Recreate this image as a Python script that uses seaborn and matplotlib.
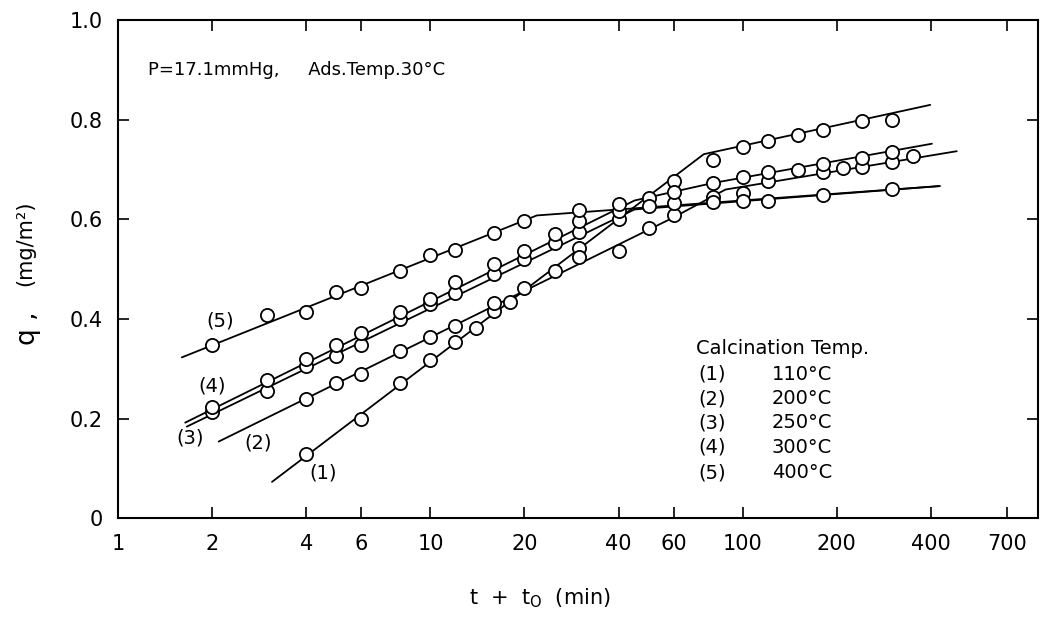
import numpy as np
import pandas as pd
import matplotlib
matplotlib.use("Agg")
import matplotlib.pyplot as plt
import seaborn as sns
from matplotlib.ticker import NullLocator

# measured points: t + t0 (min) and q (mg/m2) for each calcination temperature
t_1 = [4, 6, 8, 10, 12, 14, 16, 18, 25, 30, 40, 50, 60, 80, 100, 120, 150, 180, 240, 300]
q_1 = [0.129, 0.199, 0.271, 0.317, 0.354, 0.382, 0.416, 0.434, 0.497, 0.543, 0.600, 0.644,
       0.677, 0.720, 0.745, 0.758, 0.770, 0.780, 0.798, 0.800]

t_2 = [4, 5, 6, 8, 10, 12, 16, 20, 30, 40, 50, 60, 80, 100, 120, 180, 210, 240, 300, 350]
q_2 = [0.239, 0.271, 0.289, 0.335, 0.364, 0.386, 0.432, 0.462, 0.525, 0.537, 0.582, 0.608,
       0.646, 0.653, 0.677, 0.695, 0.703, 0.705, 0.715, 0.727]

t_3 = [2, 3, 4, 5, 6, 8, 10, 12, 16, 20, 25, 30, 40, 60, 80, 100, 120, 180, 300]
q_3 = [0.214, 0.255, 0.305, 0.325, 0.347, 0.400, 0.430, 0.452, 0.491, 0.521, 0.552, 0.574,
       0.616, 0.632, 0.634, 0.638, 0.638, 0.650, 0.661]

t_4 = [2, 3, 4, 5, 6, 8, 10, 12, 16, 20, 25, 30, 40, 60, 80, 100, 120, 150, 180, 240, 300]
q_4 = [0.224, 0.277, 0.319, 0.347, 0.372, 0.414, 0.440, 0.475, 0.511, 0.537, 0.570, 0.596,
       0.630, 0.655, 0.673, 0.685, 0.695, 0.699, 0.711, 0.723, 0.735]

t_5 = [2, 3, 4, 5, 6, 8, 10, 12, 16, 20, 30, 50]
q_5 = [0.347, 0.408, 0.414, 0.455, 0.463, 0.497, 0.529, 0.539, 0.572, 0.596, 0.618, 0.626]

# hand-drawn fit lines (break points)
fit_t_1 = [3.11, 75, 398]
fit_q_1 = [0.073, 0.731, 0.830]
fit_t_2 = [2.10, 60, 88, 484]
fit_q_2 = [0.154, 0.604, 0.660, 0.737]
fit_t_3 = [1.66, 45, 427]
fit_q_3 = [0.184, 0.620, 0.667]
fit_t_4 = [1.64, 45, 80, 403]
fit_q_4 = [0.192, 0.638, 0.673, 0.752]
fit_t_5 = [1.60, 21.9, 427]
fit_q_5 = [0.323, 0.608, 0.667]

series_ids = ["(1)", "(2)", "(3)", "(4)", "(5)"]
calc_temps = ["110°C", "200°C", "250°C", "300°C", "400°C"]

x_ticks = [1, 2, 4, 6, 10, 20, 40, 60, 100, 200, 400, 700]
x_tick_labels = ["1", "2", "4", "6", "10", "20", "40", "60", "100", "200", "400", "700"]
y_ticks = [0, 0.2, 0.4, 0.6, 0.8, 1.0]
y_tick_labels = ["0", "0.2", "0.4", "0.6", "0.8", "1.0"]


def main():
    pts = pd.concat([
        pd.DataFrame({"t": t, "q": q, "run": s})
        for t, q, s in zip([t_1, t_2, t_3, t_4, t_5], [q_1, q_2, q_3, q_4, q_5], series_ids)
    ])
    fits = pd.concat([
        pd.DataFrame({"t": t, "q": q, "run": s})
        for t, q, s in zip([fit_t_1, fit_t_2, fit_t_3, fit_t_4, fit_t_5],
                           [fit_q_1, fit_q_2, fit_q_3, fit_q_4, fit_q_5], series_ids)
    ])

    sns.set_style("ticks", {"xtick.direction": "in", "ytick.direction": "in"})
    plt.rcParams["font.family"] = ["DejaVu Sans"]
    plt.rcParams.update({"text.color": "black", "axes.labelcolor": "black",
                         "xtick.color": "black", "ytick.color": "black",
                         "axes.edgecolor": "black"})

    fig = plt.figure(figsize=(10.45, 6.32), dpi=100)
    ax = fig.add_axes([0.113, 0.180, 0.880, 0.788])

    black = {s: "black" for s in series_ids}
    sns.lineplot(data=fits, x="t", y="q", hue="run", palette=black, units="run",
                 estimator=None, sort=False, linewidth=1.3, legend=False, ax=ax)
    sns.scatterplot(data=pts, x="t", y="q", hue="run", palette=black, marker="o",
                    s=90, linewidth=1.3, legend=False, ax=ax, zorder=3)
    for coll in ax.collections:
        coll.set_facecolor("white")
        coll.set_edgecolor("black")

    ax.set_xscale("log")
    ax.set_xlim(1, 879)
    ax.set_ylim(0, 1.0)
    ax.set_xticks(x_ticks)
    ax.set_xticklabels(x_tick_labels)
    ax.xaxis.set_minor_locator(NullLocator())
    ax.set_yticks(y_ticks)
    ax.set_yticklabels(y_tick_labels)
    ax.tick_params(axis="both", which="major", direction="in", length=8, width=1.2,
                   top=True, right=True, labelsize=15, pad=11)
    for sp in ax.spines.values():
        sp.set_linewidth(1.5)
    ax.set_xlabel("")
    ax.set_ylabel("")

    # curve labels
    ax.text(2.12, 0.396, "(5)", fontsize=14, ha="center", va="center")
    ax.text(2.0, 0.265, "(4)", fontsize=14, ha="center", va="center")
    ax.text(1.70, 0.162, "(3)", fontsize=14, ha="center", va="center")
    ax.text(2.8, 0.152, "(2)", fontsize=14, ha="center", va="center")
    ax.text(4.53, 0.091, "(1)", fontsize=14, ha="center", va="center")

    ax.text(0.033, 0.90, "P=17.1mmHg,     Ads.Temp.30°C", transform=ax.transAxes,
            fontsize=13, ha="left", va="center")

    # key block
    ax.text(71, 0.341, "Calcination Temp.", fontsize=14, ha="left", va="center")
    rows_y = [0.289, 0.240, 0.192, 0.143, 0.091]
    for yy, sid, temp in zip(rows_y, series_ids, calc_temps):
        ax.text(79.6, yy, sid, fontsize=14, ha="center", va="center")
        ax.text(124, yy, temp, fontsize=14, ha="left", va="center")

    fig.text(0.517, 0.054, "t  +  t$_\\mathregular{O}$  (min)", fontsize=15,
             ha="center", va="center")
    fig.text(0.027, 0.48, "q ,", fontsize=19, rotation=90, ha="center", va="center")
    fig.text(0.024, 0.615, "(mg/m²)", fontsize=15, rotation=90, ha="center", va="center")

    fig.savefig("out.png", dpi=100)
    plt.close(fig)


if __name__ == "__main__":
    main()
